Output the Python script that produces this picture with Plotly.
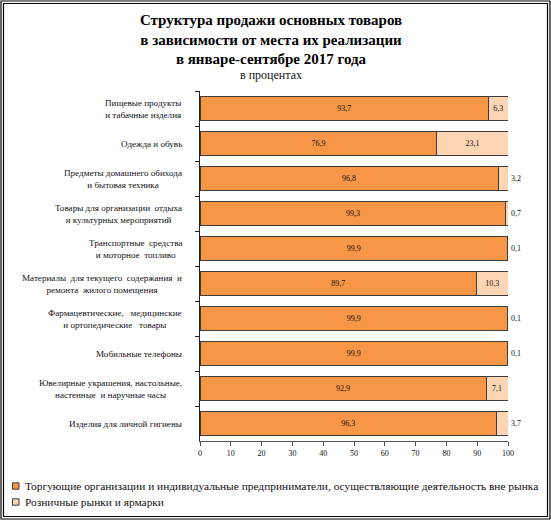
import plotly.graph_objects as go

categories = [
    "Пищевые продукты<br>и табачные изделия",
    "Одежда и обувь",
    "Предметы домашнего обихода<br>и бытовая техника",
    "Товары для организации  отдыха<br>и культурных мероприятий",
    "Транспортные  средства<br>и моторное  топливо",
    "Материалы  для текущего  содержания  и<br>ремонта  жилого помещения",
    "Фармацевтические,   медицинские<br>и ортопедические   товары",
    "Мобильные телефоны",
    "Ювелирные украшения, настольные,<br>настенные  и наручные часы",
    "Изделия для личной гигиены",
]
outside_market = [93.7, 76.9, 96.8, 99.3, 99.9, 89.7, 99.9, 99.9, 92.9, 96.3]
markets = [6.3, 23.1, 3.2, 0.7, 0.1, 10.3, 0.1, 0.1, 7.1, 3.7]
series_names = [
    "Торгующие организации и индивидуальные предприниматели, осуществляющие деятельность вне рынка",
    "Розничные рынки и ярмарки",
]
series_colors = ["#F79646", "#FCD5B5"]
x_ticks = [0, 10, 20, 30, 40, 50, 60, 70, 80, 90, 100]

FONT = "Liberation Serif, Times New Roman, serif"
EDGE = "#3c3c3c"

# plot area in pixels: x 200..508, y 91..441
L, R, T, B = 200, 508, 91, 441


def px_x(p):
    return (p - L) / (R - L)


def px_y(p):
    return (B - p) / (B - T)


fig = go.Figure()
for name, vals, col in zip(series_names, [outside_market, markets], series_colors):
    fig.add_trace(go.Bar(
        y=categories, x=vals, orientation="h", name=name,
        marker=dict(color=col, line=dict(color=EDGE, width=1)),
        texttemplate="%{x:.1f}",
        textposition=["inside" if v > 5 else "outside" for v in vals],
        insidetextanchor="middle",
        textfont=dict(family=FONT, size=8, color="#111111"),
        cliponaxis=False,
        hoverinfo="x+y",
    ))

# category labels, centred line by line like the original
for cat in categories:
    fig.add_annotation(text=cat, xref="paper", yref="y", x=px_x(184), y=cat,
                       xanchor="right", yanchor="middle", align="center", showarrow=False,
                       font=dict(family=FONT, size=9.1, color="#111111"))

# legend drawn by hand: small squares + text
for i, (name, col) in enumerate(zip(series_names, series_colors)):
    cy = 486 + 16 * i
    fig.add_shape(type="rect", xref="paper", yref="paper",
                  x0=px_x(12.5), x1=px_x(19), y0=px_y(cy + 3.2), y1=px_y(cy - 3.2),
                  fillcolor=col, line=dict(color=EDGE, width=1))
    fig.add_annotation(text=name, xref="paper", yref="paper",
                       x=px_x(23), y=px_y(cy), xanchor="left", yanchor="middle",
                       showarrow=False, font=dict(family=FONT, size=11.4, color="#111111"))

# double frame round the whole picture
for a, b, c, d in [(1, 550, 1, 519), (3.5, 547.5, 3.5, 516.5)]:
    fig.add_shape(type="rect", xref="paper", yref="paper",
                  x0=px_x(a), x1=px_x(b), y0=px_y(d), y1=px_y(c),
                  line=dict(color="#000000", width=1.2), layer="above")

fig.add_annotation(text="в процентах", xref="paper", yref="paper",
                   x=px_x(271), y=px_y(75), xanchor="center", yanchor="middle",
                   showarrow=False, font=dict(family=FONT, size=12, color="#111111"))

fig.update_layout(
    width=551, height=520,
    barmode="stack", bargap=0.34,
    separators=", ",
    paper_bgcolor="white", plot_bgcolor="white",
    margin=dict(l=L, r=551 - R, t=T, b=520 - B, autoexpand=False),
    font=dict(family=FONT, size=10, color="#111111"),
    title=dict(
        text="<b>Структура продажи основных товаров<br>в зависимости от места их реализации<br>в январе-сентябре 2017 года</b>",
        x=271 / 551, xanchor="center", yref="container", y=1 - 25 / 520, yanchor="top",
        font=dict(family=FONT, size=15, color="#000000"),
    ),
    uniformtext=dict(minsize=8, mode="show"),
    showlegend=False,
)
fig.update_xaxes(
    range=[0, 100], tickvals=x_ticks, showgrid=False, zeroline=False,
    showline=True, linecolor="#555555", linewidth=1, automargin=False,
    ticks="outside", ticklen=4, tickcolor="#555555",
    tickfont=dict(family=FONT, size=8, color="#111111"),
)
fig.update_yaxes(
    autorange="reversed", showgrid=False, zeroline=False, automargin=False,
    showline=True, linecolor="#222222", linewidth=1, showticklabels=False,
    ticks="outside", ticklen=4, tickcolor="#222222", tickson="boundaries",
)

# page body has a default 8px margin; drop it so the figure fills the window
fig.write_html("out.html", config={"displayModeBar": False},
               post_script="document.body.style.margin='0';")
